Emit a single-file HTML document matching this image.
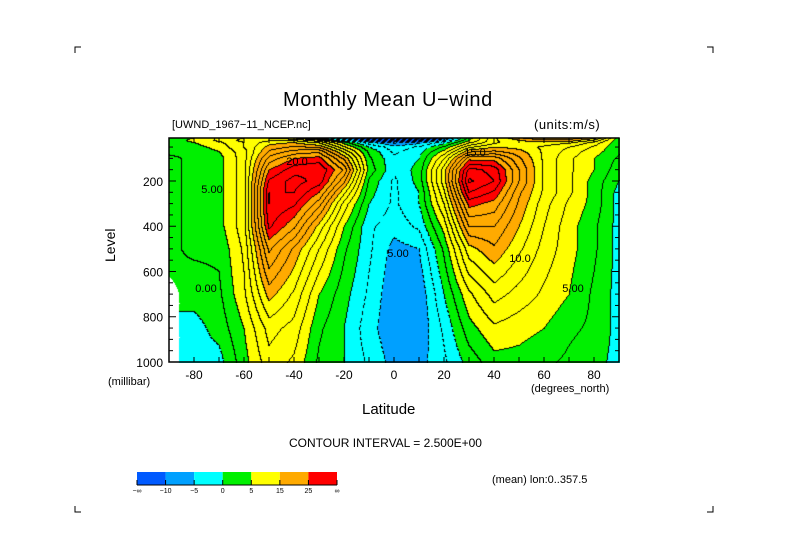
<!DOCTYPE html>
<html><head><meta charset="utf-8"><style>
body{margin:0;background:#fff;}
#wrap{position:relative;width:789px;height:558px;overflow:hidden;background:#fff;font-family:"Liberation Sans",sans-serif;color:#000;}
.t{position:absolute;white-space:nowrap;line-height:1;}
canvas{position:absolute;left:169px;top:138px;}
svg{position:absolute;left:0;top:0;}
</style></head><body>
<div id="wrap">
<canvas id="cv" width="451" height="225"></canvas>
<svg id="ov" width="789" height="558"></svg>
<div class="t" style="left:283px;top:90px;font-size:20px;letter-spacing:0.6px;font-weight:300">Monthly Mean U−wind</div>
<div class="t" style="left:172px;top:120px;font-size:11px">[UWND_1967−11_NCEP.nc]</div>
<div class="t" style="left:534px;top:118px;font-size:13px;letter-spacing:0.5px">(units:m/s)</div>
<div class="t" style="left:103px;top:262px;font-size:14px;transform:rotate(-90deg);transform-origin:0 0">Level</div>
<div class="t" style="left:108px;top:377px;font-size:11px">(millibar)</div>
<div class="t" style="left:531px;top:384px;font-size:11px">(degrees_north)</div>
<div class="t" style="left:362px;top:402px;font-size:15px">Latitude</div>
<div class="t" style="left:289px;top:437px;font-size:12px">CONTOUR INTERVAL = 2.500E+00</div>
<div class="t" style="left:492px;top:475px;font-size:11px">(mean) lon:0..357.5</div>
</div>
<script>
const lats=[-90,-80,-70,-60,-50,-40,-30,-20,-10,0,10,20,30,40,50,60,70,80,90];
const levels=[10,20,30,50,70,100,150,200,250,300,400,500,700,850,1000];
const N=NaN;
const u10=[3,5,8,10,10,8,2,-8,-20,-25,-20,-10,4,12,17,20,19,16,3];
const u20=[3,6,8,11,12,12,8,-1,-10,-15,-12,-5,5,12,15,17,17,12,3];
const u30=[3,5,7,10,14,15,12,4,-4,-8,-6,-1,7,12,14,14,13,9,3];
const u50=[3,4,6,10,16,18,17,8,0,-4,-2,3,12,15,14,12,10,7,3];
const u70=[3,3,5,9,18,21,22,12,2,-3,-1,6,17,18,16,12,9,6,3];
const u100=[2,3,4,9,21,25,26,17,3,-2,0,10,24,24,18,12,8,5,2];
const u150=[2,3,4,9,25,29,30,22,4,-2,1,14,31,29,20,12,8,5,1];
const u200=[2,3,4,9,28,31,29,18,2,-3,1,14,33,30,20,12,8,4,0];
const u250=[2,3,4,9,30,30,25,13,1,-3,0,12,30,27,18,12,8,4,-1];
const u300=[2,3,4,9,30,28,21,9,0,-3,0,10,26,24,17,11,7,4,-1];
const u400=[2,3,4,9,28,23,14,5,-2,-4,-2,6,20,20,15,10,6,3,-1];
const u500=[2,3,3,8,23,17,10,3,-2,-6,-5,3,14,17,13,9,6,3,-1];
const u700=[N,1,2,7,16,12,5,1,-3,-7,-7,0,7,11,9,7,5,2,-1];
const u850=[N,-1,1,5,11,9,3,0,-4,-7,-7,-2,4,7,6,5,3,2,-1];
const u1000=[N,-1,-1,4,9,7,2,0,-3,-6,-6,-3,1,4,4,3,2,1,-1];
const grid=[u10,u20,u30,u50,u70,u100,u150,u200,u250,u300,u400,u500,u700,u850,u1000];
const binEdges=[-10,-5,0,5,15,25];
const binColors=[[0,90,255],[0,160,255],[0,255,255],[0,240,0],[255,255,0],[255,170,0],[255,0,0]];
const binLabels=["−∞","−10","−5","0","5","15","25","∞"];
const xTicks=[-80,-60,-40,-20,0,20,40,60,80];
const yTicks=[200,400,600,800,1000];

const X0=169,X1=619,Y0=138,Y1=362,P0=10,P1=1000;
const xs=lat=>X0+(lat+90)/180*(X1-X0);
const ys=p=>Y0+(p-P0)/(P1-P0)*(Y1-Y0);
const latOf=x=>-90+(x-X0)/(X1-X0)*180;
const pOf=y=>P0+(y-Y0)/(Y1-Y0)*(P1-P0);
function val(lat,p){
  let i=Math.min(lats.length-2,Math.max(0,Math.floor((lat+90)/10)));
  let fx=(lat-lats[i])/10;
  let j=0;while(j<levels.length-2&&p>levels[j+1])j++;
  let fy=(p-levels[j])/(levels[j+1]-levels[j]);
  fx=Math.max(0,Math.min(1,fx));fy=Math.max(0,Math.min(1,fy));
  const c=[[grid[j][i],(1-fx)*(1-fy)],[grid[j][i+1],fx*(1-fy)],[grid[j+1][i],(1-fx)*fy],[grid[j+1][i+1],fx*fy]];
  let s=0,w=0,nw=0;
  for(const [v,wt] of c){if(isNaN(v))nw+=wt;else{s+=v*wt;w+=wt;}}
  if(nw>0.6||w===0)return NaN;
  return s/w;
}
function bin(v){let b=0;while(b<binEdges.length&&v>=binEdges[b])b++;return b;}
const cv=document.getElementById('cv');const ctx=cv.getContext('2d');
const W=cv.width,H=cv.height;const img=ctx.createImageData(W,H);
const V=new Float32Array(W*H);
for(let y=0;y<H;y++)for(let x=0;x<W;x++)V[y*W+x]=val(latOf(X0+x),pOf(Y0+y));
const L=v=>Math.floor(v/2.5);
for(let y=0;y<H;y++)for(let x=0;x<W;x++){
  const v=V[y*W+x];const k=(y*W+x)*4;
  if(isNaN(v)){img.data[k]=img.data[k+1]=img.data[k+2]=255;img.data[k+3]=255;continue;}
  let col=binColors[bin(v)];
  let line=false;
  if(x<W-1&&!isNaN(V[y*W+x+1])&&L(V[y*W+x+1])!==L(v))line=true;
  if(y<H-1&&!isNaN(V[(y+1)*W+x])&&L(V[(y+1)*W+x])!==L(v))line=true;
  if(line&&v<0&&((x+y)%6)>3)line=false;
  if(line)col=[0,0,0];
  img.data[k]=col[0];img.data[k+1]=col[1];img.data[k+2]=col[2];img.data[k+3]=255;
}
ctx.putImageData(img,0,0);

const svg=document.getElementById('ov');const NS='http://www.w3.org/2000/svg';
function mk(tag,a){const e=document.createElementNS(NS,tag);for(const k in a)e.setAttribute(k,a[k]);svg.appendChild(e);return e;}
let fr=mk('rect',{x:X0,y:Y0,width:X1-X0,height:Y1-Y0,fill:'none',stroke:'#000','stroke-width':1.5});


for(let lat=-90;lat<=90;lat+=10){
  const t1=mk('line',{x1:xs(lat),x2:xs(lat),y1:Y1,y2:Y1-5,stroke:'#000'});
  
  
  const t2=mk('line',{x1:xs(lat),x2:xs(lat),y1:Y0,y2:Y0+5,stroke:'#000'});
  
  
}
for(let p=50;p<=1000;p+=50){
  const len=p%200===0?7:4;
  const t1=mk('line',{x1:X0,x2:X0+len,y1:ys(p),y2:ys(p),stroke:'#000'});
  
  
  const t2=mk('line',{x1:X1,x2:X1-len,y1:ys(p),y2:ys(p),stroke:'#000'});
  
  
}
for(const lat of xTicks){
  const t=mk('text',{x:xs(lat),y:Y1+17,'font-size':12,'text-anchor':'middle','font-family':'Liberation Sans, sans-serif'});
  t.textContent=lat;
  
  
}
for(const p of yTicks){
  const t=mk('text',{x:163,y:ys(p)+5,'font-size':12,'text-anchor':'end','font-family':'Liberation Sans, sans-serif'});
  t.textContent=p;
  
  
}
const clabs=[["20.0",297,165],["10.0",520,262],["5.00",573,292],["5.00",212,193],["0.00",206,292],["5.00",398,257],["15.0",475,156]];
for(const c of clabs){
  const t=mk('text',{x:c[1],y:c[2],'font-size':11,'text-anchor':'middle','font-family':'Liberation Sans, sans-serif'});
  t.textContent=c[0];
  
  
}
const CB0=137,CB1=337,CBY=472,CBH=13;const nb=binColors.length;const bw=(CB1-CB0)/nb;
for(let i=0;i<nb;i++){
  const r=mk('rect',{x:CB0+i*bw,y:CBY,width:bw,height:CBH,fill:'rgb('+binColors[i].join(',')+')'});
  
  
}
const cbf=mk('line',{x1:CB0,x2:CB1,y1:CBY+CBH,y2:CBY+CBH,stroke:'#000'});


for(let i=0;i<=nb;i++){
  const x=CB0+i*bw;
  const tk=mk('line',{x1:x,x2:x,y1:CBY+CBH-5,y2:CBY+CBH,stroke:'#000'});
  
  
  const t=mk('text',{x:x,y:CBY+CBH+8,'font-size':7,'text-anchor':'middle','font-family':'Liberation Sans, sans-serif'});
  t.textContent=binLabels[i];
  
  
}
const corners=[[75,47,1,1],[713,47,-1,1],[75,512,1,-1],[713,512,-1,-1]];
for(const c of corners){
  const p=mk('path',{d:`M${c[0]} ${c[1]+6*c[3]}V${c[1]}H${c[0]+6*c[2]}`,fill:'none',stroke:'#000'});
  
  
}
</script>
</body></html>
